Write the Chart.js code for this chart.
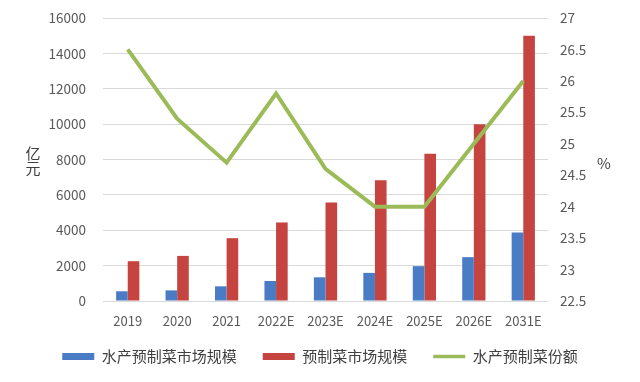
<!DOCTYPE html>
<html>
<head>
<meta charset="utf-8">
<script src="https://cdn.jsdelivr.net/npm/chart.js@4/dist/chart.umd.min.js"></script>
<style>
  html, body { margin: 0; padding: 0; background: #ffffff; }
  #wrap { width: 640px; height: 382px; position: relative; }
</style>
</head>
<body>
<div id="wrap"><canvas id="c" width="640" height="382"></canvas></div>
<script>
const categories = ['2019', '2020', '2021', '2022E', '2023E', '2024E', '2025E', '2026E', '2031E'];
const aquaticMarket = [550, 600, 830, 1130, 1340, 1590, 1970, 2480, 3870];
const prepMarket = [2250, 2550, 3550, 4440, 5570, 6820, 8330, 10000, 15000];
const aquaticShare = [26.5, 25.4, 24.7, 25.8, 24.6, 24.0, 24.0, 25.0, 26.0];
const seriesNames = ['水产预制菜市场规模', '预制菜市场规模', '水产预制菜份额'];
const leftAxisRange = [0, 16000, 2000];
const rightAxisRange = [22.5, 27, 0.5];
const leftAxisTitle = ['亿', '元'];
const rightAxisTitle = '%';

const FONT = '"Noto Sans CJK SC", "Noto Sans", sans-serif';
const BLUE = '#4a7cc6';
const RED = '#c6443f';
const GREEN = '#9bbb59';

const axisTitles = {
  id: 'axisTitles',
  afterLayout(chart) {
    if (chart.legend) { chart.legend.top -= 8; chart.legend.bottom -= 8; }
  },
  afterDraw(chart) {
    const ctx = chart.ctx;
    ctx.save();
    ctx.fillStyle = '#404040';
    ctx.font = '15px ' + FONT;
    ctx.textAlign = 'center';
    ctx.textBaseline = 'middle';
    leftAxisTitle.forEach((ch, i) => ctx.fillText(ch, 33, 153 + i * 15));
    ctx.fillText(rightAxisTitle, 604, 163);
    ctx.restore();
  }
};

new Chart(document.getElementById('c'), {
  data: {
    labels: categories,
    datasets: [
      {
        type: 'bar', label: seriesNames[0], data: aquaticMarket,
        backgroundColor: BLUE, yAxisID: 'y', order: 1,
        barPercentage: 1.0, categoryPercentage: 0.47, pointStyle: 'rect'
      },
      {
        type: 'bar', label: seriesNames[1], data: prepMarket,
        backgroundColor: RED, yAxisID: 'y', order: 1,
        barPercentage: 1.0, categoryPercentage: 0.47, pointStyle: 'rect'
      },
      {
        type: 'line', label: seriesNames[2], data: aquaticShare,
        borderColor: GREEN, backgroundColor: GREEN, borderWidth: 4,
        pointRadius: 0, tension: 0, yAxisID: 'y1', order: 0,
        pointStyle: 'line', borderJoinStyle: 'miter'
      }
    ]
  },
  options: {
    responsive: false,
    animation: false,
    layout: { padding: { top: 18, left: 0, right: 0, bottom: 0 } },
    plugins: {
      tooltip: { enabled: false },
      legend: {
        position: 'bottom',
        labels: {
          usePointStyle: true,
          pointStyleWidth: 32,
          boxHeight: 7,
          padding: 26,
          color: '#404040',
          font: { family: FONT, size: 15 },
          sort: (a, b) => a.datasetIndex - b.datasetIndex,
          generateLabels(chart) {
            const items = Chart.defaults.plugins.legend.labels.generateLabels(chart);
            items.forEach((it) => {
              if (it.datasetIndex < 2) { it.lineWidth = 0; it.strokeStyle = 'rgba(0,0,0,0)'; }
              else { it.lineWidth = 3.5; it.strokeStyle = GREEN; }
            });
            return items;
          }
        }
      }
    },
    scales: {
      x: {
        grid: { display: false },
        border: { display: false },
        ticks: { color: '#595959', font: { family: FONT, size: 13 }, padding: 4, maxRotation: 0, autoSkip: false },
        afterFit(s) { s.height = 30; }
      },
      y: {
        position: 'left',
        min: leftAxisRange[0], max: leftAxisRange[1],
        grid: { color: '#d9d9d9', drawTicks: false, lineWidth: 1 },
        border: { display: false },
        ticks: { stepSize: leftAxisRange[2], color: '#595959', font: { family: FONT, size: 13.5 }, padding: 17,
                 callback: (v) => String(v) },
        afterFit(s) { s.width = 103; s.paddingTop = 0; s.paddingBottom = 0; }
      },
      y1: {
        position: 'right',
        min: rightAxisRange[0], max: rightAxisRange[1],
        grid: { display: false, drawTicks: false },
        border: { display: false },
        ticks: { stepSize: rightAxisRange[2], color: '#595959', font: { family: FONT, size: 13.5 }, padding: 12,
                 callback: (v) => String(Math.round(v * 10) / 10) },
        afterFit(s) { s.width = 92; s.paddingTop = 0; s.paddingBottom = 0; }
      }
    }
  },
  plugins: [axisTitles]
});
</script>
</body>
</html>
